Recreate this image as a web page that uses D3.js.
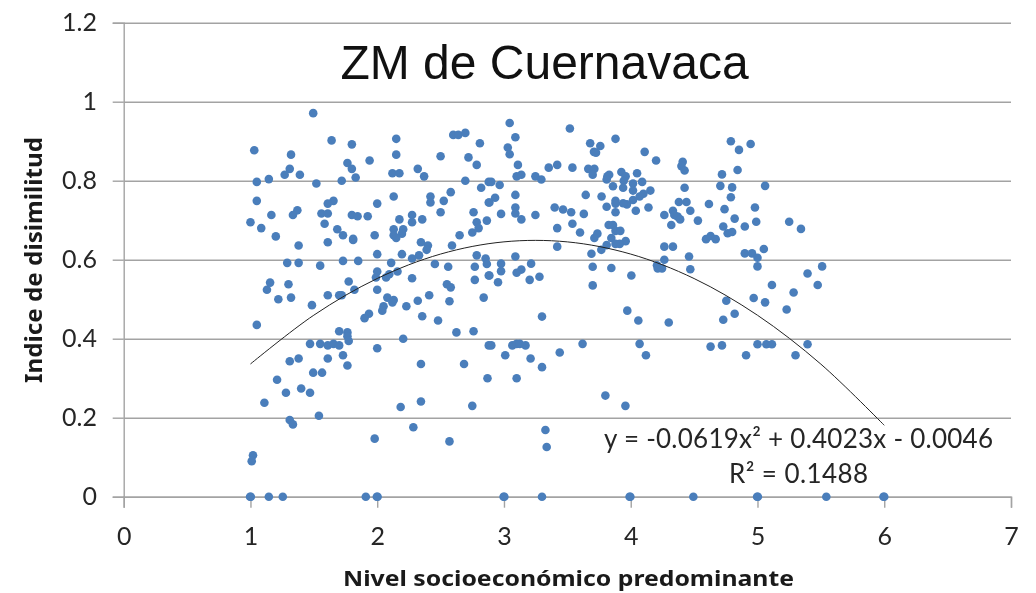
<!DOCTYPE html>
<html><head><meta charset="utf-8">
<script src="https://cdn.jsdelivr.net/npm/d3@7/dist/d3.min.js"></script>
<style>html,body{margin:0;padding:0;background:#fff}svg{display:block;filter:blur(0.35px)}</style>
</head><body><svg id="c" width="1036" height="593"></svg>
<script>
const chartTitle = "ZM de Cuernavaca";
const xTitle = "Nivel socioeconómico predominante";
const yTitle = "Indice de disimilitud";
const xTicks = [0,1,2,3,4,5,6,7];
const yTicks = [0,0.2,0.4,0.6,0.8,1,1.2];
const yTickLabels = ["0","0.2","0.4","0.6","0.8","1","1.2"];
const equationText = "y = -0.0619x² + 0.4023x - 0.0046";
const r2Text = "R² = 0.1488";
const trendX = [1,1.5,2,2.5,3,3.5,4,4.5,5,5.5,6];
const trendY = [0.336,0.4596,0.5524,0.6143,0.6452,0.6451,0.6142,0.5523,0.4594,0.3356,0.1808];
const points = [
[1.495,.971],[1.03,.877],[1.32,.866],[1.64,.902],[1.8,.892],[2.15,.906],[2.15,.866],[1.94,.851],[1.765,.845],[1.8,.83],[1.83,.808],[1.72,.8],[1.31,.83],[1.27,.815],[1.39,.815],[1.145,.804],[1.05,.797],[1.52,.793],[2.12,.819],[2.175,.819],[2.32,.83],[2.37,.811],[2.5,.862],[2.6,.916],[2.64,.916],[2.695,.921],[2.81,.895],[2.72,.859],[2.785,.84],[2.695,.8],[2.88,.797],[2.82,.782],[2.58,.771],[2.42,.76],[2.42,.745],[2.525,.749],[2.13,.76],[2,.742],[1.655,.749],[1.61,.742],[1.05,.749],[2.88,.745],[2.76,.72],[2.5,.72],[1.37,.725],[1.335,.713],[1.165,.713],[1.56,.717],[1.61,.717],[1.8,.713],[1.845,.71],[1.925,.71],[2.275,.713],[2.275,.695],[2.355,.702],[2.175,.702],[2.785,.695],[2.865,.699],[1,.695],[1.085,.68],[1.585,.691],[1.685,.677],[1.73,.662],[1.81,.653],[1.81,.65],[1.2,.659],[1.98,.662],[2.13,.677],[2.205,.677],[2.13,.662],[2.195,.666],[2.15,.655],[2.75,.669],[2.8,.68],[2.65,.662],[1.61,.644],[1.38,.636],[2.345,.644],[2.4,.636],[2.39,.625],[2.59,.636],[2,.614],[2.195,.614],[2.33,.611],[2.275,.603],[2.785,.611],[2.855,.603],[2.865,.589],[1.29,.592],[1.38,.592],[1.55,.585],[1.73,.597],[1.85,.597],[2.11,.592],[2.455,.589],[2.56,.582],[2.77,.582],[2,.57],[2.16,.57],[2.095,.563],[2.07,.555],[1.99,.555],[2.88,.56],[2.275,.553],[2.77,.549],[1.155,.542],[1.3,.538],[1.13,.524],[1.775,.545],[2.55,.538],[2.58,.53],[1.82,.524],[2,.524],[1.22,.5],[1.32,.504],[1.61,.51],[1.7,.51],[1.72,.51],[2.08,.504],[2.13,.498],[2.32,.496],[2.41,.51],[2.57,.495],[2.84,.504],
[1.485,.485],[1.05,.435],[1.935,.463],[1.9,.452],[2.05,.482],[2.04,.471],[2.12,.492],[2.23,.482],[2.355,.457],[2.48,.446],[2.625,.416],[2.76,.419],[2.205,.4],[1.7,.419],[1.765,.416],[1.765,.406],[1.775,.394],[1.47,.387],[1.55,.387],[1.61,.383],[1.655,.387],[1.7,.383],[2,.376],[1.73,.358],[1.61,.35],[1.38,.35],[1.31,.343],[1.765,.332],[1.495,.314],[1.565,.314],[2.345,.336],[2.685,.336],[2.88,.383],[1.21,.296],[2.87,.3],[1.4,.274],[1.28,.263],[1.47,.263],[1.11,.238],[2.345,.241],[2.185,.227],[2.75,.23],[1.54,.205],[1.31,.194],[1.335,.183],[2.285,.176],[1.98,.147],[2.57,.14],[1.02,.105],[1.01,.09],
[0.997,0],[1.003,0],[1.145,0],[1.255,0],[1.91,0],[1.997,0],[2.003,0],
[3.045,.946],[3.52,.932],[3.09,.91],[3.03,.884],[3.045,.867],[3.68,.895],[3.76,.888],[3.88,.906],[3.71,.873],[3.726,.871],[4.11,.873],[4.2,.851],[3.11,.84],[3.353,.833],[3.42,.84],[3.54,.833],[3.665,.83],[3.713,.83],[3.7,.815],[3.1,.811],[3.137,.815],[3.248,.811],[3.295,.803],[2.9,.797],[2.966,.789],[3.816,.811],[3.83,.815],[3.81,.803],[3.926,.822],[3.96,.811],[3.945,.8],[4.05,.819],[3.86,.786],[3.94,.782],[4.018,.793],[4.018,.775],[4.09,.797],[4.155,.775],[4.1,.767],[4.07,.76],[4.018,.751],[3.97,.74],[3.94,.743],[4.41,.848],[4.4,.837],[4.425,.826],[4.425,.782],[3.09,.764],[2.93,.757],[2.885,.745],[3.645,.764],[3.77,.76],[3.88,.749],[3.88,.742],[3.81,.734],[4.38,.746],[4.44,.746],[3.09,.732],[3.09,.717],[2.977,.716],[3.4,.732],[3.466,.727],[3.53,.72],[3.63,.716],[3.248,.713],[3.137,.702],[3.88,.72],[4.04,.724],[4.14,.732],[4.47,.724],[4.265,.713],[4.333,.724],[4.344,.713],[4.37,.709],[4.39,.702],[4.53,.699],[4.32,.688],[3.54,.691],[3.42,.68],[3.6,.669],[3.826,.688],[3.86,.688],[3.88,.673],[3.918,.673],[3.737,.666],[3.713,.655],[3.847,.655],[3.96,.647],[3.913,.64],[3.88,.64],[3.81,.637],[3.768,.625],[3.42,.633],[4.265,.633],[4.333,.633],[4.46,.608],[4.265,.6],[3.09,.608],[3.69,.615],[2.977,.59],[2.977,.571],[3.214,.59],[3.7,.582],[3.847,.579],[4.207,.586],[4.213,.578],[4.247,.578],[4.47,.576],[3.137,.575],[3.1,.567],[2.885,.56],[3.28,.557],[3.203,.549],[4.005,.56],[2.953,.543],[3.7,.535],
[3.3,.456],[3.973,.471],[4.06,.446],[4.3,.441],[2.9,.383],[3.066,.383],[3.1,.387],[3.125,.387],[3.17,.383],[3.01,.358],[3.21,.35],[3.3,.328],[3.44,.365],[3.62,.387],[4.07,.387],[4.12,.358],[3.1,.3],[3.8,.256],[3.958,.23],[3.327,.169],[3.337,.126],
[2.997,0],[3.003,0],[3.3,0],[3.991,0],[3.997,0],[4.494,0],
[4.79,.9],[4.854,.878],[4.946,.893],[4.843,.827],[4.72,.816],[4.707,.787],[4.8,.783],[5.06,.787],[4.617,.741],[4.79,.758],[4.74,.728],[4.98,.732],[4.82,.704],[4.99,.696],[5.25,.696],[5.343,.678],[4.73,.684],[4.9,.684],[4.765,.667],[4.8,.67],[4.594,.652],[4.63,.66],[4.67,.652],[4.9,.616],[4.957,.616],[5,.605],[5.05,.627],[5,.583],[5.51,.583],[5.395,.565],[5.114,.536],[5.475,.536],[5.285,.517],[4.754,.496],[4.97,.503],[5.06,.492],[5.23,.474],[4.82,.463],[4.73,.448],[5,.386],[5.07,.386],[5.114,.386],[5.395,.386],[4.63,.38],[4.72,.383],[4.91,.358],[5.3,.358],
[4.997,0],[5.003,0],[5.543,0],[5.994,0],[6,0]
];

const svg = d3.select("#c");
const x = d3.scaleLinear().domain([0,7]).range([123.7,1011]);
const y = d3.scaleLinear().domain([0,1.2]).range([496.7,22.7]);
const grey = "#a3a3a3", txt = "#262626", sans = "Lato, 'Noto Sans', sans-serif", bold = "'Noto Sans', sans-serif";

const gy = svg.append("g").attr("transform",`translate(${x(0)},0)`)
  .call(d3.axisLeft(y).tickValues(yTicks).tickSize(11).tickPadding(15.7)
    .tickFormat((d,i)=>yTickLabels[i]));
const gx = svg.append("g").attr("transform",`translate(0,${y(0)})`)
  .call(d3.axisBottom(x).tickValues(xTicks).tickSize(11).tickPadding(20).tickFormat(d3.format("d")));
svg.selectAll("g .domain").attr("stroke",grey).attr("stroke-width",1.4);
svg.selectAll("g .tick line").attr("stroke",grey).attr("stroke-width",1.4);
svg.selectAll("g .tick text").attr("fill",txt).style("font-family",sans).style("font-size","25px");
gy.selectAll(".tick").append("line").attr("x1",0).attr("x2",x(7)-x(0))
  .attr("stroke",grey).attr("stroke-width",1.4);

svg.append("g").selectAll("circle").data(points).join("circle")
  .attr("cx",d=>x(d[0])).attr("cy",d=>y(d[1])).attr("r",4.3).attr("fill","#4a7ebb");

const line = d3.line().x((d,i)=>x(trendX[i])).y(d=>y(d)).curve(d3.curveCatmullRom);
svg.append("path").attr("d",line(trendY)).attr("fill","none").attr("stroke","#222").attr("stroke-width",1);

svg.append("text").attr("x",544.5).attr("y",79).attr("text-anchor","middle")
  .style("font-family","'Liberation Sans',Arial,sans-serif").style("font-size","48px").attr("fill","#111").text(chartTitle);
svg.append("text").attr("x",604).attr("y",448).attr("textLength",389).attr("lengthAdjust","spacing")
  .style("font-family",sans).style("font-size","26px").attr("fill",txt).text(equationText);
svg.append("text").attr("x",729).attr("y",483).attr("textLength",139).attr("lengthAdjust","spacing")
  .style("font-family",sans).style("font-size","26px").attr("fill",txt).text(r2Text);
svg.append("text").attr("x",343).attr("y",586).attr("textLength",451).attr("lengthAdjust","spacingAndGlyphs")
  .style("font-family",bold).style("font-size","21.5px").style("font-weight",700).attr("fill","#1a1a1a").text(xTitle);
svg.append("text").attr("transform","translate(41.5,383) rotate(-90)").attr("textLength",246).attr("lengthAdjust","spacingAndGlyphs")
  .style("font-family",bold).style("font-size","23px").style("font-weight",700).attr("fill","#1a1a1a").text(yTitle);
</script></body></html>
